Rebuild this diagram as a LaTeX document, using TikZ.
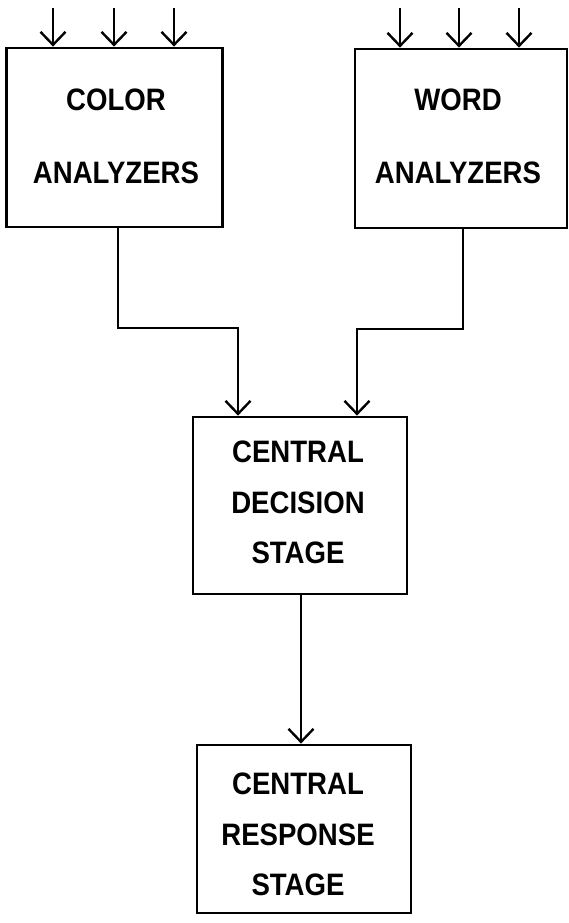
\documentclass[tikz,border=0pt]{standalone}
\usepackage{fontspec}
\newfontfamily\labelfont{Liberation Sans}[FakeStretch=0.89]
\usetikzlibrary{arrows.meta}
\begin{document}
\begin{tikzpicture}[x=1pt,y=-1pt,
  box/.style={draw,line width=2.8pt,inner sep=0pt,rectangle},
  lbl/.style={anchor=base,inner sep=0pt,font=\labelfont\bfseries\fontsize{31}{32}\selectfont},
  conn/.style={line width=2.6pt,line join=miter},
  arr/.style={conn,-{Straight Barb[length=13pt,width=25pt,line width=2.4pt]}}]
\useasboundingbox (0,0) rectangle (569,923);
% boxes
\node[box,minimum width=216pt,minimum height=179pt] (color) at (114.5,137.5) {};
\node[box,minimum width=212pt,minimum height=179pt] (word) at (461,138.5) {};
\node[box,minimum width=214pt,minimum height=177pt] (decision) at (300,505.5) {};
\node[box,minimum width=214pt,minimum height=168pt] (response) at (304,829) {};
% labels
\node[lbl] (t1) at (116,111) {COLOR};
\node[lbl] (t2) at (116,183) {ANALYZERS};
\node[lbl] (t3) at (458,111) {WORD};
\node[lbl] (t4) at (458,183) {ANALYZERS};
\node[lbl] (t5) at (298,462) {CENTRAL};
\node[lbl] (t6) at (298,513) {DECISION};
\node[lbl] (t7) at (298,563) {STAGE};
\node[lbl] (t8) at (298,794) {CENTRAL};
\node[lbl] (t9) at (298,845) {RESPONSE};
\node[lbl] (t10) at (298,895) {STAGE};
% input arrows
\coordinate (i1) at (53,8);
\coordinate (i2) at (114,8);
\coordinate (i3) at (174,8);
\coordinate (i4) at (400,8);
\coordinate (i5) at (459,8);
\coordinate (i6) at (519,8);
\foreach \c/\b in {i1/color,i2/color,i3/color,i4/word,i5/word,i6/word}
  \draw[arr] (\c) -- (\b.north -| \c);
% connectors
\coordinate (k1) at (118,328);
\coordinate (k2) at (238,328);
\coordinate (k3) at (463,329);
\coordinate (k4) at (357,329);
\coordinate (k5) at (301,0);
\draw[arr] (color.south -| k1) -- (k1) -- (k2) -- (decision.north -| k2);
\draw[arr] (word.south -| k3) -- (k3) -- (k4) -- (decision.north -| k4);
\draw[arr] (decision.south -| k5) -- (response.north -| k5);
\end{tikzpicture}
\end{document}
